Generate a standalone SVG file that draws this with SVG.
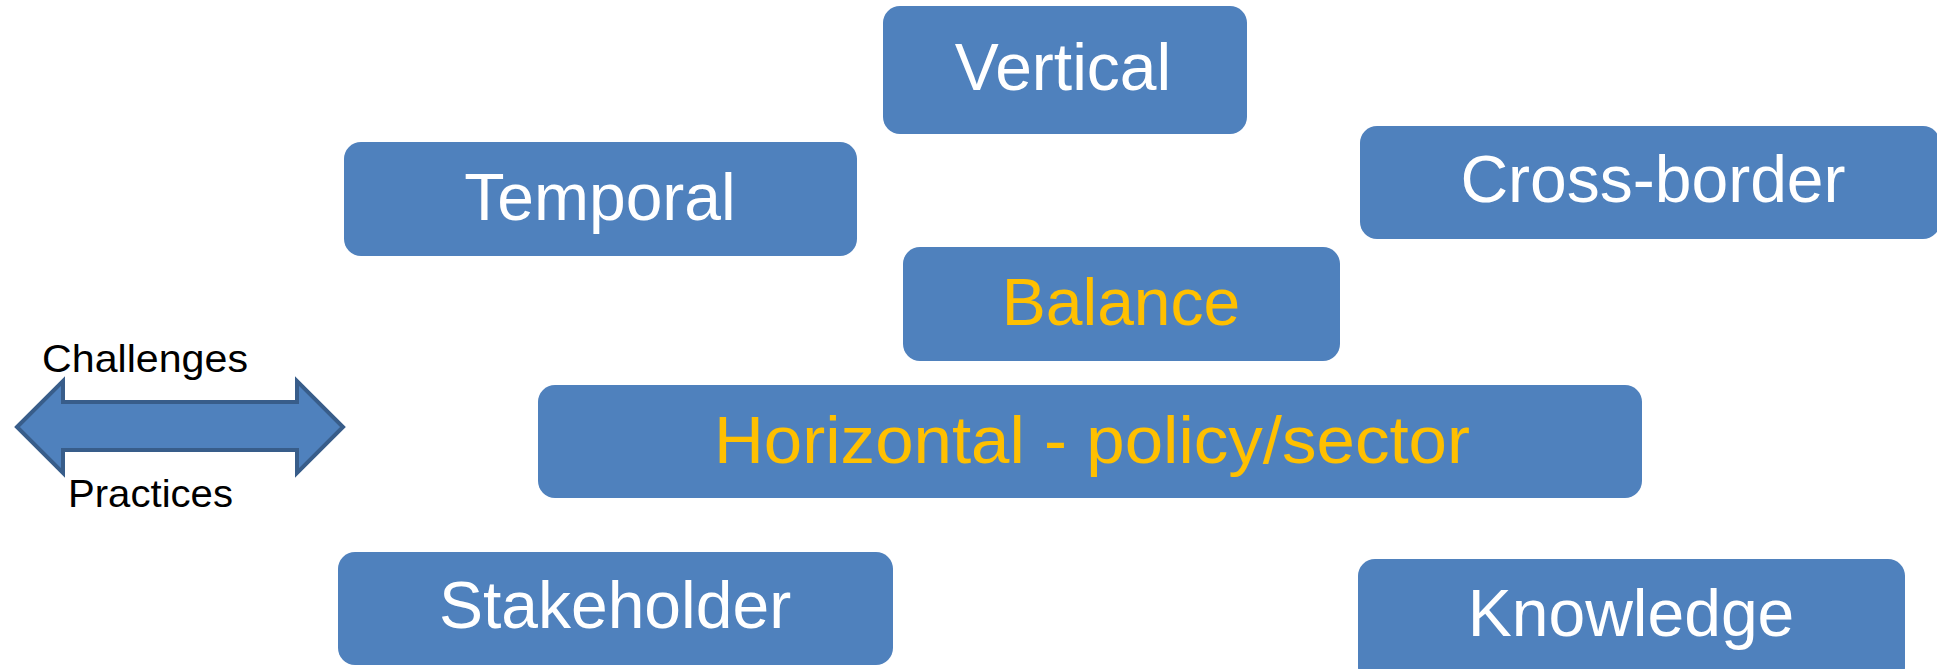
<svg xmlns="http://www.w3.org/2000/svg" width="1937" height="669" viewBox="0 0 1937 669">
<style>
.box{fill:#4F81BD;}
.t{font-family:"Liberation Sans",Arial,sans-serif;font-size:66px;text-anchor:middle;fill:#FFFFFF;}
.y{fill:#FFC000;}
.lbl{font-family:"Liberation Sans",Arial,sans-serif;font-size:39px;fill:#000000;}
</style>
<rect width="1937" height="669" fill="#FFFFFF"/>
<g id="connectors">
<path id="double-arrow" d="M17,427 L63,381 L63,402 L297,402 L297,381 L343,427 L297,473 L297,450 L63,450 L63,473 Z" fill="#4F81BD" stroke="#385D8A" stroke-width="4" stroke-linejoin="miter"/>
</g>
<g id="label-challenges"><text class="lbl" x="42" y="372" textLength="206" lengthAdjust="spacingAndGlyphs">Challenges</text></g>
<g id="label-practices"><text class="lbl" x="68" y="507" textLength="165" lengthAdjust="spacingAndGlyphs">Practices</text></g>
<g id="node-vertical">
<rect class="box" x="883" y="6" width="364" height="128" rx="17"/>
<text class="t" x="1063" y="90">Vertical</text>
</g>
<g id="node-temporal">
<rect class="box" x="344" y="142" width="513" height="114" rx="17"/>
<text class="t" x="600" y="220">Temporal</text>
</g>
<g id="node-crossborder">
<rect class="box" x="1360" y="126" width="580" height="113" rx="17"/>
<text class="t" x="1653" y="202">Cross-border</text>
</g>
<g id="node-balance">
<rect class="box" x="903" y="247" width="437" height="114" rx="17"/>
<text class="t y" x="1121" y="325">Balance</text>
</g>
<g id="node-horizontal">
<rect class="box" x="538" y="385" width="1104" height="113" rx="17"/>
<text class="t y" x="1092" y="463" textLength="756" lengthAdjust="spacingAndGlyphs">Horizontal - policy/sector</text>
</g>
<g id="node-stakeholder">
<rect class="box" x="338" y="552" width="555" height="113" rx="17"/>
<text class="t" x="615" y="628">Stakeholder</text>
</g>
<g id="node-knowledge">
<rect class="box" x="1358" y="559" width="547" height="125" rx="17"/>
<text class="t" x="1631" y="636">Knowledge</text>
</g>
</svg>
